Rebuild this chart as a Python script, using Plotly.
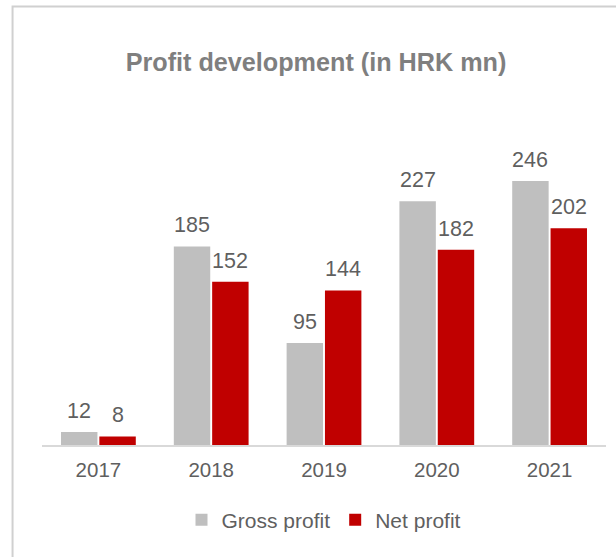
import plotly.graph_objects as go

years = ["2017", "2018", "2019", "2020", "2021"]
gross_profit = [12, 185, 95, 227, 246]
net_profit = [8, 152, 144, 182, 202]

W, H = 616, 557
L, R, T, B = 41.5, 9.5, 123.4, 112
pw, ph = W - L - R, H - T - B

def px_to_paper_x(p):
    return (p - L) / pw

def px_to_paper_y(p):
    return (H - B - p) / ph

font_fam = "Liberation Sans, Arial, sans-serif"
label_color = "#5f5f5f"
BARGAP, GROUPGAP = 0.32, 0.05

fig = go.Figure()
fig.add_trace(go.Bar(
    x=years, y=gross_profit, name="Gross profit",
    marker=dict(color="#bfbfbf", line=dict(width=0)),
))
fig.add_trace(go.Bar(
    x=years, y=net_profit, name="Net profit",
    marker=dict(color="#c00000", line=dict(width=0)),
))

# data labels (one per bar, offset to each bar's slot); category index used
slot = pw / len(years) * (1 - BARGAP) / 2
annotations = []
for series, sgn in ((gross_profit, -1), (net_profit, 1)):
    for i, v in enumerate(series):
        annotations.append(dict(
            x=i, y=v, xref="x", yref="y", text=str(v), showarrow=False,
            xshift=sgn * slot / 2, yanchor="bottom", yshift=7,
            font=dict(size=21.5, color=label_color, family=font_fam),
        ))

fig.update_layout(
    width=W, height=H,
    margin=dict(l=L, r=R, t=T, b=B, pad=0),
    paper_bgcolor="white", plot_bgcolor="white",
    barmode="group", bargap=BARGAP, bargroupgap=GROUPGAP,
    font=dict(family=font_fam, color=label_color),
    title=dict(
        text="<b>Profit development (in HRK mn)</b>",
        x=px_to_paper_x(316), xref="paper", xanchor="center",
        y=1 - 62 / H, yref="container", yanchor="middle",
        font=dict(size=25.2, color="#7f7f7f", family=font_fam),
    ),
    xaxis=dict(
        type="category", range=[-0.5, len(years) - 0.5],
        showgrid=False, showline=True, linecolor="#d9d9d9", linewidth=1.5,
        ticks="", tickfont=dict(size=20.5, color=label_color),
        ticklabelstandoff=6,
    ),
    yaxis=dict(range=[0, 300], visible=False, showgrid=False, zeroline=False),
    showlegend=True,
    legend=dict(
        orientation="h", x=px_to_paper_x(324), xanchor="center",
        y=px_to_paper_y(520), yanchor="middle",
        font=dict(size=21, color=label_color),
        itemwidth=30, traceorder="normal",
    ),
    annotations=annotations,
    shapes=[dict(
        type="rect", xref="paper", yref="paper",
        x0=px_to_paper_x(12), x1=px_to_paper_x(640),
        y0=px_to_paper_y(580), y1=px_to_paper_y(7),
        line=dict(color="#d0d0d0", width=2), fillcolor="rgba(0,0,0,0)",
        layer="below",
    )],
)

fig.write_html("out.html", config={"displayModeBar": False},
               post_script="document.body.style.margin='0px';")
